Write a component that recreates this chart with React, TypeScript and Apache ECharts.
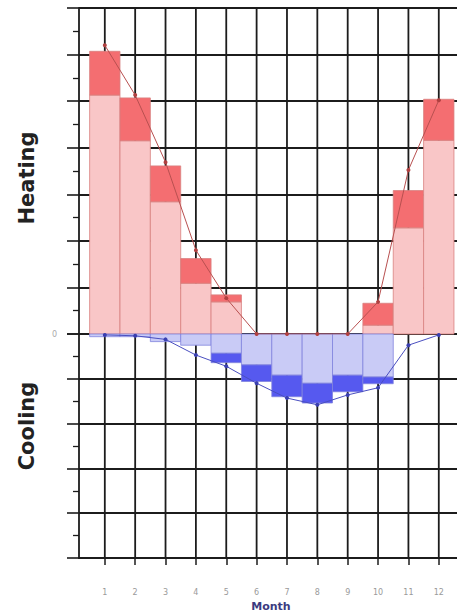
import { useEffect, useRef } from "react";
import * as echarts from "echarts";

const months = [1, 2, 3, 4, 5, 6, 7, 8, 9, 10, 11, 12];
const heatBase = [5.13, 4.15, 2.84, 1.09, 0.69, 0, 0, 0, 0, 0.19, 2.28, 4.16];
const heatTotal = [6.07, 5.07, 3.61, 1.62, 0.84, 0, 0, 0, 0, 0.66, 3.08, 5.04];
const coolBase = [0.06, 0.06, 0.17, 0.25, 0.43, 0.69, 0.92, 1.1, 0.92, 0.96, 0, 0];
const coolTotal = [0.06, 0.06, 0.17, 0.25, 0.64, 1.06, 1.4, 1.54, 1.29, 1.11, 0, 0];
const heatLine = [6.2, 5.13, 3.69, 1.8, 0.77, 0, 0, 0, 0, 0.69, 3.52, 5.02];
const coolLine = [0.02, 0.04, 0.12, 0.47, 0.72, 1.1, 1.43, 1.58, 1.36, 1.2, 0.25, 0.02];

const GRID = "#1c1c1c";

export default function App() {
  const ref = useRef<HTMLDivElement>(null);
  useEffect(() => {
    const chart = echarts.init(ref.current!, null, { renderer: "svg" });

    const vGrid = (yTop: number, yBottom: number, xi: number) => ({
      type: "custom",
      xAxisIndex: xi,
      yAxisIndex: xi,
      silent: true,
      z: 1,
      data: months.map((m) => [m]),
      encode: { x: 0 },
      renderItem: (params: any, api: any) => {
        const m = api.value(0);
        const p1 = api.coord([m, yTop]);
        const p2 = api.coord([m, yBottom]);
        return {
          type: "line",
          shape: { x1: p1[0], y1: p1[1], x2: p2[0], y2: p2[1] },
          style: { stroke: GRID, lineWidth: 1.8 },
        };
      },
    });

    const bars = (
      xi: number,
      base: number[],
      total: number[],
      sign: number,
      light: string,
      dark: string,
      edge: string
    ) => ({
      type: "custom",
      xAxisIndex: xi,
      yAxisIndex: xi,
      z: 2,
      silent: true,
      data: months.map((m, i) => [m, sign * base[i], sign * total[i]]),
      encode: { x: 0, y: [1, 2] },
      renderItem: (params: any, api: any) => {
        const m = api.value(0);
        const b = api.value(1);
        const t = api.value(2);
        if (t === 0) return null;
        const x0 = api.coord([m - 0.5, 0])[0];
        const x1 = api.coord([m + 0.5, 0])[0];
        const y0 = api.coord([m, 0])[1];
        const yb = api.coord([m, b])[1];
        const yt = api.coord([m, t])[1];
        const children: any[] = [];
        if (b !== 0) {
          children.push({
            type: "rect",
            shape: { x: x0, y: Math.min(y0, yb), width: x1 - x0, height: Math.abs(yb - y0) },
            style: { fill: light, stroke: edge, lineWidth: 0.8 },
          });
        }
        if (t !== b) {
          children.push({
            type: "rect",
            shape: { x: x0, y: Math.min(yb, yt), width: x1 - x0, height: Math.abs(yt - yb) },
            style: { fill: dark, stroke: edge, lineWidth: 0.8 },
          });
        }
        return { type: "group", children };
      },
    });

    const yCommon = {
      type: "value",
      interval: 1,
      axisLine: { show: true, onZero: false, lineStyle: { color: GRID, width: 1.8 } },
      axisTick: { show: true, length: 12, lineStyle: { color: GRID, width: 1.6 } },
      minorTick: { show: true, splitNumber: 2, length: 6, lineStyle: { color: GRID, width: 1.3 } },
      splitLine: { show: true, lineStyle: { color: GRID, width: 1.8 } },
    };

    chart.setOption({
      animation: false,
      backgroundColor: "#ffffff",
      textStyle: { fontFamily: "DejaVu Sans" },
      grid: [
        { left: 79, right: 0, top: 8, height: 326 },
        { left: 79, right: 0, top: 334, height: 224 },
      ],
      xAxis: [
        { gridIndex: 0, type: "value", min: 0.15, max: 12.6, show: false },
        {
          gridIndex: 1,
          type: "value",
          min: 0.15,
          max: 12.6,
          axisLine: { show: true, onZero: false, lineStyle: { color: GRID, width: 1.8 } },
          axisTick: { show: true, customValues: months, length: 7, lineStyle: { color: GRID, width: 1.5 } },
          axisLabel: {
            show: true,
            customValues: months,
            formatter: (v: number) => String(v),
            color: "#9a9a9a",
            fontSize: 8,
            margin: 30,
          },
          splitLine: { show: false },
        },
      ],
      yAxis: [
        {
          ...yCommon,
          gridIndex: 0,
          min: 0,
          max: 7,
          axisLabel: {
            formatter: (v: number) => (v === 0 ? "0" : ""),
            color: "#aaaaaa",
            fontSize: 8,
            margin: 22,
          },
        },
        {
          ...yCommon,
          gridIndex: 1,
          min: -5,
          max: 0,
          axisLabel: { show: false },
        },
      ],
      graphic: [
        {
          type: "text",
          x: 27,
          y: 178,
          rotation: Math.PI / 2,
          style: {
            text: "Heating",
            font: 'bold 21px "DejaVu Sans"',
            fill: "#222222",
            align: "center",
            verticalAlign: "middle",
            textAlign: "center",
            textVerticalAlign: "middle",
          },
        },
        {
          type: "text",
          x: 27,
          y: 426,
          rotation: Math.PI / 2,
          style: {
            text: "Cooling",
            font: 'bold 21px "DejaVu Sans"',
            fill: "#222222",
            align: "center",
            verticalAlign: "middle",
            textAlign: "center",
            textVerticalAlign: "middle",
          },
        },
        {
          type: "text",
          x: 271,
          y: 606,
          style: {
            text: "Month",
            font: 'bold 11px "DejaVu Sans"',
            fill: "#3b3b80",
            align: "center",
            verticalAlign: "middle",
            textAlign: "center",
            textVerticalAlign: "middle",
          },
        },
      ],
      series: [
        vGrid(7, 0, 0),
        vGrid(0, -5, 1),
        bars(0, heatBase, heatTotal, 1, "#f9c6c7", "#f46e71", "#d8807f"),
        bars(1, coolBase, coolTotal, -1, "#c9cbf6", "#5659ef", "#8083dd"),
        {
          type: "line",
          xAxisIndex: 0,
          yAxisIndex: 0,
          z: 5,
          silent: true,
          data: months.map((m, i) => [m, heatLine[i]]),
          symbol: "circle",
          symbolSize: 4,
          lineStyle: { color: "#b85050", width: 1 },
          itemStyle: { color: "#b04040" },
        },
        {
          type: "line",
          xAxisIndex: 1,
          yAxisIndex: 1,
          z: 5,
          silent: true,
          data: months.map((m, i) => [m, -coolLine[i]]),
          symbol: "circle",
          symbolSize: 4,
          lineStyle: { color: "#4a4fc0", width: 1 },
          itemStyle: { color: "#3a3fb0" },
        },
      ],
    });
    return () => chart.dispose();
  }, []);
  return (
    <div
      ref={ref}
      style={{ position: "absolute", left: 0, top: 0, width: 457, height: 612 }}
    />
  );
}
